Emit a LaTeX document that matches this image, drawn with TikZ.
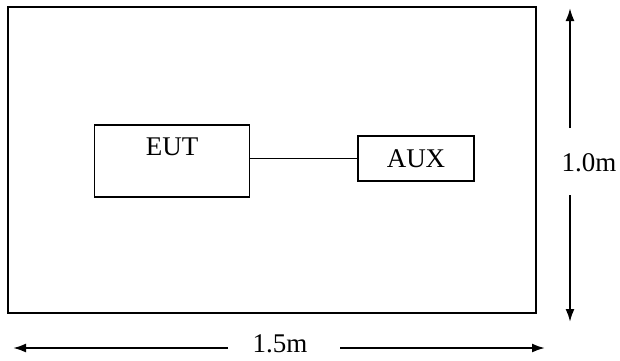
\documentclass[tikz,border=0pt]{standalone}
\usepackage{fontspec}
\setmainfont{Liberation Serif}
\usetikzlibrary{arrows.meta}
\begin{document}
\begin{tikzpicture}[
    x=1pt, y=-1pt,
    every node/.style={inner sep=0pt, font=\fontsize{27}{31}\selectfont},
    unitbox/.style={draw, line width=1.4pt},
    dimline/.style={line width=2pt, -{Latex[length=13pt,width=9pt]}}
]
\useasboundingbox (0,0) rectangle (620,360);
% test area
\node[unitbox, minimum width=528pt, minimum height=306pt] (room) at (272,160) {};
\node[unitbox, minimum width=155pt, minimum height=72pt,
      label={[yshift=14pt]center:EUT}] (eut) at (172,161) {};
\node[unitbox, minimum width=116pt, minimum height=45pt] (aux) at (416,158.5) {AUX};
\draw[line width=1.4pt] (eut.east |- aux.west) -- (aux.west);
% height
\node (hgt) at (589,163) {1.0m};
\coordinate (vtop) at (570,8);
\coordinate (vup) at (570,128);
\coordinate (vdown) at (570,195);
\coordinate (vbot) at (570,322);
\draw[dimline] (vup) -- (vtop);
\draw[dimline] (vdown) -- (vbot);
% width
\node (wid) at (280,344) {1.5m};
\coordinate (hleft) at (13,348);
\coordinate (hl) at (228,348);
\coordinate (hr) at (340,348);
\coordinate (hright) at (545,348);
\draw[dimline] (hl) -- (hleft);
\draw[dimline] (hr) -- (hright);
\end{tikzpicture}
\end{document}
